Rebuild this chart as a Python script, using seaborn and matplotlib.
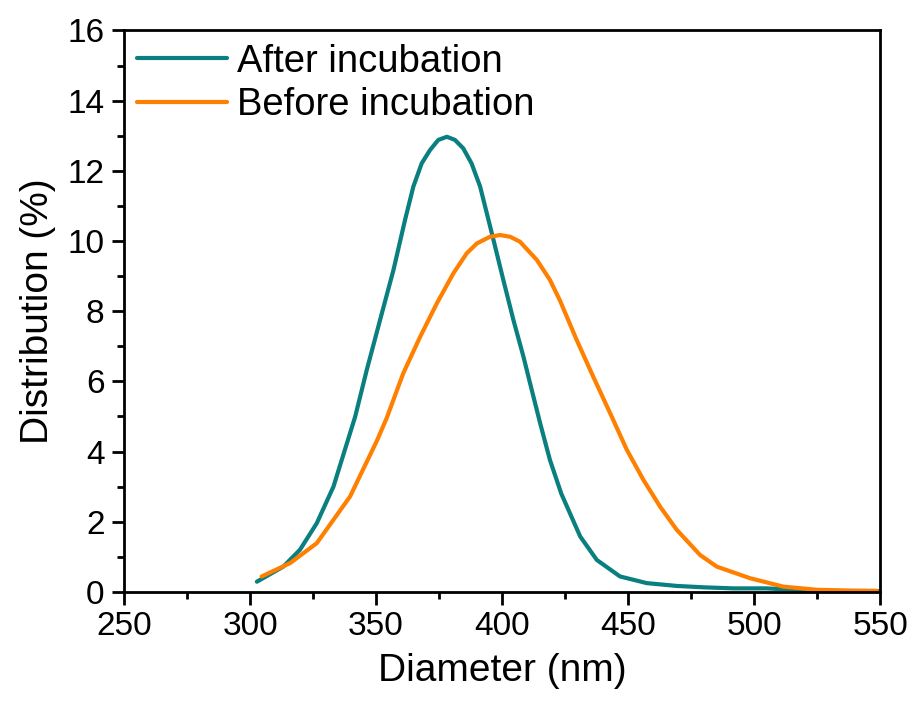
import numpy as np
import pandas as pd
import matplotlib
matplotlib.use("Agg")
import matplotlib.pyplot as plt
import seaborn as sns
from matplotlib.ticker import MultipleLocator

# values
after_x = [302.7, 313.2, 319.8, 326.5, 333.1, 341.7, 346.3, 351.6, 356.9, 361.5, 364.8,
           368.1, 371.4, 374.7, 378.1, 381.3, 384.6, 387.9, 391.3, 396.6, 400.5, 404.5,
           408.5, 411.1, 415.1, 419.0, 423.5, 431.0, 437.6, 446.8, 457.4, 469.3, 480.0,
           491.8, 505.0, 515.6, 524.9, 537.0, 550.0]
after_y = [0.29, 0.72, 1.2, 1.96, 3.0, 4.99, 6.32, 7.75, 9.17, 10.6, 11.55,
           12.21, 12.59, 12.88, 12.97, 12.88, 12.64, 12.21, 11.55, 10.03, 8.89, 7.75,
           6.70, 5.95, 4.81, 3.76, 2.8, 1.58, 0.91, 0.44, 0.25, 0.17, 0.13,
           0.1, 0.1, 0.06, 0.03, 0.02, 0.02]

before_x = [304.6, 315.9, 326.5, 339.7, 350.3, 354.2, 360.8, 367.5, 374.1, 380.7, 386.0,
            390.0, 395.2, 399.2, 403.2, 407.1, 413.8, 419.0, 423.0, 429.6, 436.2, 442.9,
            449.5, 456.1, 462.7, 469.3, 478.6, 485.2, 498.4, 511.6, 524.9, 537.0, 548.7]
before_y = [0.44, 0.82, 1.39, 2.72, 4.3, 4.95, 6.23, 7.27, 8.22, 9.08, 9.65,
            9.93, 10.12, 10.17, 10.12, 9.98, 9.46, 8.89, 8.3, 7.18, 6.13, 5.09,
            4.05, 3.19, 2.43, 1.77, 1.05, 0.72, 0.39, 0.15, 0.06, 0.04, 0.03]

df = pd.concat([
    pd.DataFrame({"Diameter": after_x, "Distribution": after_y, "Sample": "After incubation"}),
    pd.DataFrame({"Diameter": before_x, "Distribution": before_y, "Sample": "Before incubation"}),
])

sns.set_style("ticks")
plt.rcParams['font.family'] = ['Liberation Sans', 'DejaVu Sans']
plt.rcParams['text.color'] = 'black'
plt.rcParams['axes.labelcolor'] = 'black'
plt.rcParams['axes.linewidth'] = 2.0

fig = plt.figure(figsize=(9.12, 7.08), dpi=100)
ax = fig.add_axes([0.136, 0.164, 0.829, 0.793])

palette = {"After incubation": "#0a7f7f", "Before incubation": "#ff8000"}
sns.lineplot(data=df, x="Diameter", y="Distribution", hue="Sample", palette=palette,
             linewidth=3.0, ax=ax, sort=True)
for ln in ax.get_lines():
    ln.set_solid_joinstyle("round")
    ln.set_solid_capstyle("round")

ax.set_xlim(250, 550)
ax.set_ylim(0, 16)
ax.xaxis.set_major_locator(MultipleLocator(50))
ax.xaxis.set_minor_locator(MultipleLocator(25))
ax.yaxis.set_major_locator(MultipleLocator(2))
ax.yaxis.set_minor_locator(MultipleLocator(1))
ax.tick_params(which="major", direction="out", length=9, width=2, labelsize=24,
               colors="black", pad=5)
ax.tick_params(which="minor", direction="out", length=5, width=2, colors="black")
ax.tick_params(top=False, right=False, which="both")
for s in ax.spines.values():
    s.set_visible(True)
    s.set_linewidth(2.0)
    s.set_color("black")

ax.set_xlabel("Diameter (nm)", fontsize=28, labelpad=8)
ax.set_ylabel("Distribution (%)", fontsize=28, labelpad=8)

leg = ax.legend(loc="upper left", frameon=False, fontsize=27.5, handlelength=2.35,
                handletextpad=0.25, labelspacing=0.2, borderaxespad=0.0, borderpad=0.35,
                bbox_to_anchor=(0.0, 1.0))
for line in leg.get_lines():
    line.set_linewidth(3.0)

fig.savefig("out.png", dpi=100)
